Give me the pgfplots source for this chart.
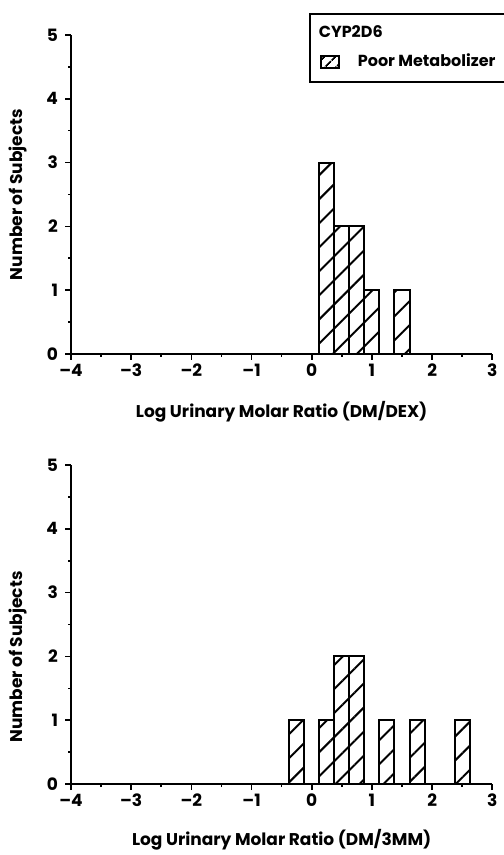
\documentclass[border=0pt]{standalone}
\usepackage{pgfplots}
\pgfplotsset{compat=1.18}
\usepackage{fontspec}
\setmainfont{Poppins}
\usetikzlibrary{patterns.meta}
\begin{document}
\begin{tikzpicture}[font=\fontsize{8.5}{10}\selectfont\bfseries]
\path[use as bounding box] (0,0) rectangle (251.5pt,427.5pt);
\pgfplotsset{
  myax/.style={
    scale only axis, width=210.65pt, height=159.5pt,
    anchor=south west,
    axis lines=left, axis line style={line width=1pt, -},
    xmin=-4, xmax=3, ymin=0, ymax=5,
    xtick={-4,-3,-2,-1,0,1,2,3},
    xticklabels={–4,–3,–2,–1,0,1,2,3},
    ytick={0,1,2,3,4,5},
    minor tick num=1,
    tick align=outside,
    major tick length=3pt, minor tick length=1.5pt,
    every tick/.style={line width=0.8pt, black},
    /pgf/number format/assume math mode=true,
    tick label style={font=\fontsize{8.5}{10}\selectfont\bfseries},
    xticklabel style={yshift=1.5pt},
    label style={font=\fontsize{8.5}{10}\selectfont\bfseries},
    ylabel={Number of Subjects},
    ybar, bar width=0.25,
    clip=false,
  },
  hatchbar/.style={draw=black, line width=1pt, fill=white,
    pattern={Lines[angle=45,distance=8.5pt,line width=1pt]}},
}
\begin{axis}[myax, at={(35.5pt,250.5pt)},
  xlabel={Log Urinary Molar Ratio (DM/DEX)},
  xlabel style={at={(axis description cs:0.5,-0.182)}, anchor=center},
  ylabel style={at={(axis description cs:-0.126,0.5)}, anchor=center, rotate=0},
  legend style={at={(0.565,1.069)}, anchor=north west, draw=black, line width=1pt,
    font=\fontsize{8}{10}\selectfont\bfseries, row sep=2.5pt, inner xsep=5pt, inner ysep=4pt},
  legend cell align=left,
  legend image code/.code={\draw[line width=0.9pt, pattern={Lines[angle=45,distance=4pt,line width=0.9pt]}] (0pt,-3pt) rectangle (9pt,3pt);},
]
\addlegendimage{empty legend}
\addlegendentry{\makebox[0pt][l]{\hspace*{-12.5pt}CYP2D6}}
\addplot[hatchbar] coordinates {(0.25,3) (0.5,2) (0.75,2) (1.0,1) (1.5,1)};
\addlegendentry{\hspace*{7pt}Poor Metabolizer}
\end{axis}
\begin{axis}[myax, at={(35.5pt,35.5pt)},
  xlabel={Log Urinary Molar Ratio (DM/3MM)},
  xlabel style={at={(axis description cs:0.5,-0.176)}, anchor=center},
  ylabel style={at={(axis description cs:-0.126,0.398)}, anchor=center, rotate=0},
]
\addplot[hatchbar] coordinates {(-0.25,1) (0.25,1) (0.5,2) (0.75,2) (1.25,1) (1.75,1) (2.5,1)};
\end{axis}
\end{tikzpicture}
\end{document}
